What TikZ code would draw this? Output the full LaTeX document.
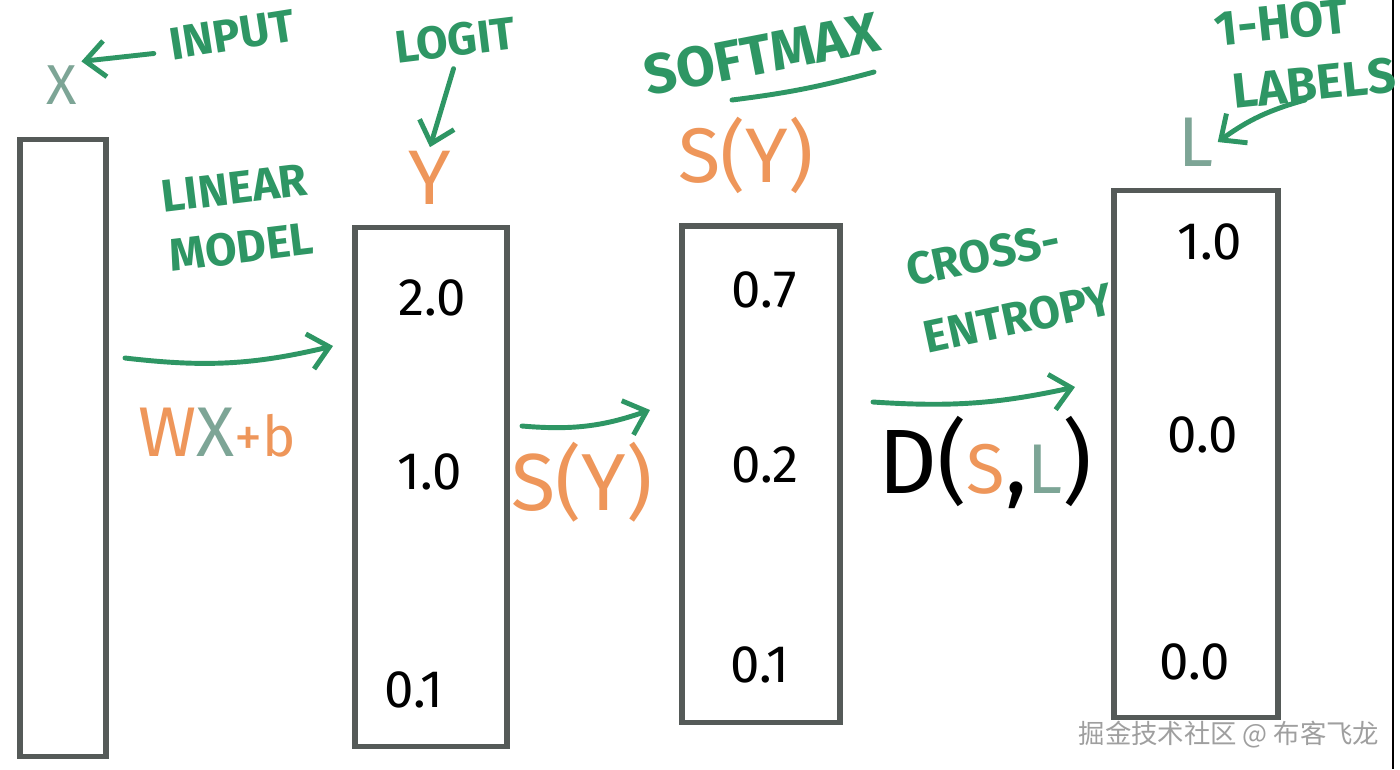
\documentclass[tikz,border=0pt]{standalone}
\usepackage{fontspec}
\setmainfont{Fira Sans}
\newfontfamily\cjkfont{Noto Sans CJK SC}
\usetikzlibrary{arrows.meta}

\definecolor{inkgreen}{RGB}{46,150,100}
\definecolor{inkorange}{RGB}{238,150,90}
\definecolor{inkgray}{RGB}{125,165,150}
\definecolor{boxgray}{RGB}{85,90,88}

\newcommand{\fsz}[1]{\fontsize{#1}{1.3\dimexpr#1pt\relax}\selectfont}

\begin{document}
\begin{tikzpicture}[
  x=0.01cm, y=-0.01cm,
  vecbox/.style={draw=boxgray, line width=1.5pt, inner sep=0pt},
  note/.style={text=inkgreen, font=\fsz{13}\bfseries, align=center, inner sep=1pt},
  val/.style={font=\fsz{15}, inner sep=1pt},
  var/.style={text=inkorange, inner sep=1pt},
  flow/.style={draw=inkgreen, line width=1.4pt, line cap=round,
    -{Straight Barb[length=2mm, width=3.6mm, line width=1.4pt]}},
]
\useasboundingbox (0,0) rectangle (1400,769);
\fill[white] (0,0) rectangle (1400,769);
\draw[black, line width=0.4pt] (1393,0) -- (1393,769);

% vectors
\node[vecbox, minimum width=0.86cm, minimum height=6.17cm] (xvec) at (63,448) {};
\node[vecbox, minimum width=1.52cm, minimum height=5.18cm] (yvec) at (431,487) {};
\node[vecbox, minimum width=1.58cm, minimum height=4.96cm] (svec) at (761,474) {};
\node[vecbox, minimum width=1.64cm, minimum height=5.27cm] (lvec) at (1196,454) {};

% values
\node[val] (y1) at (432,298) {2.0};
\node[val] (y2) at (430,472) {1.0};
\node[val] (y3) at (414,690) {0.1};
\node[val] (s1) at (764,290) {0.7};
\node[val] (s2) at (765,465) {0.2};
\node[val] (s3) at (760,665) {0.1};
\node[val] (l1) at (1210,242) {1.0};
\node[val] (l2) at (1203,435) {0.0};
\node[val] (l3) at (1195,662) {0.0};

% symbols
\node[text=inkgray, font=\fsz{16}, inner sep=1pt] (xsym) at (62,85) {X};
\node[var, font=\fsz{22}] (ysym) at (430,178) {Y};
\node[var, font=\fsz{22}] (ssym) at (746,155) {S(Y)};
\node[text=inkgray, font=\fsz{20}, inner sep=1pt] (lsym) at (1196,142) {L};

% notes
\node[note, rotate=9] (input) at (232,35) {INPUT};
\node[note, rotate=7] (logit) at (455,40) {LOGIT};
\node[note, font=\fsz{16}\bfseries, rotate=11] (softmax) at (762,54) {SOFTMAX};
\node[note, font=\fsz{14}\bfseries, rotate=6, align=left] (hot) at (1305,52) {1-HOT\\\ LABELS};
\node[note, rotate=7] (linear) at (238,218) {LINEAR\\MODEL};
\node[note, rotate=12] (cross) at (983,255) {CROSS-};
\node[note, rotate=12] (entropy) at (1018,318) {ENTROPY};

% operations
\node[font=\fsz{20}, inner sep=1pt] (wxb) at (217,433)
  {\textcolor{inkorange}{W}\textcolor{inkgray}{X}\textcolor{inkorange}{\fsz{16}+b}};
\node[var, font=\fsz{23}] (sop) at (582,482) {S(Y)};
\node[font=\fsz{26}, inner sep=1pt] (dop) at (985,462)
  {D(\textcolor{inkorange}{\fsz{20}S},\textcolor{inkgray}{\fsz{20}L})};

% pointers
\draw[flow] (input.west) ++(-12,8) coordinate (ip0) -- (xsym.north east);
\draw[flow] (logit.south) ++(-4,8) coordinate (lg0) -- (ysym.north);
\draw[draw=inkgreen, line width=1.4pt, line cap=round] (732,100) coordinate (sm0) to[bend right=4] (874,72) coordinate (sm1);
\coordinate (ht0) at (1305,100);
\draw[flow] (ht0) to[bend right=10] (lsym.east);

% flow arrows
\coordinate (lm0) at (125,358);
\coordinate (lm1) at (333,346);
\coordinate (sf0) at (522,426);
\coordinate (sf1) at (650,410);
\coordinate (ce0) at (873,402);
\coordinate (ce1) at (1075,387);
\draw[flow] (lm0) to[bend right=10] (lm1);
\draw[flow] (sf0) to[bend right=12] (sf1);
\draw[flow] (ce0) to[bend right=8] (ce1);

% watermark
\node[text=gray!75, font=\cjkfont\fsz{7.5}, anchor=east, inner sep=0pt] (mark) at (1380,735) {掘金技术社区 @ 布客飞龙};
\end{tikzpicture}
\end{document}
